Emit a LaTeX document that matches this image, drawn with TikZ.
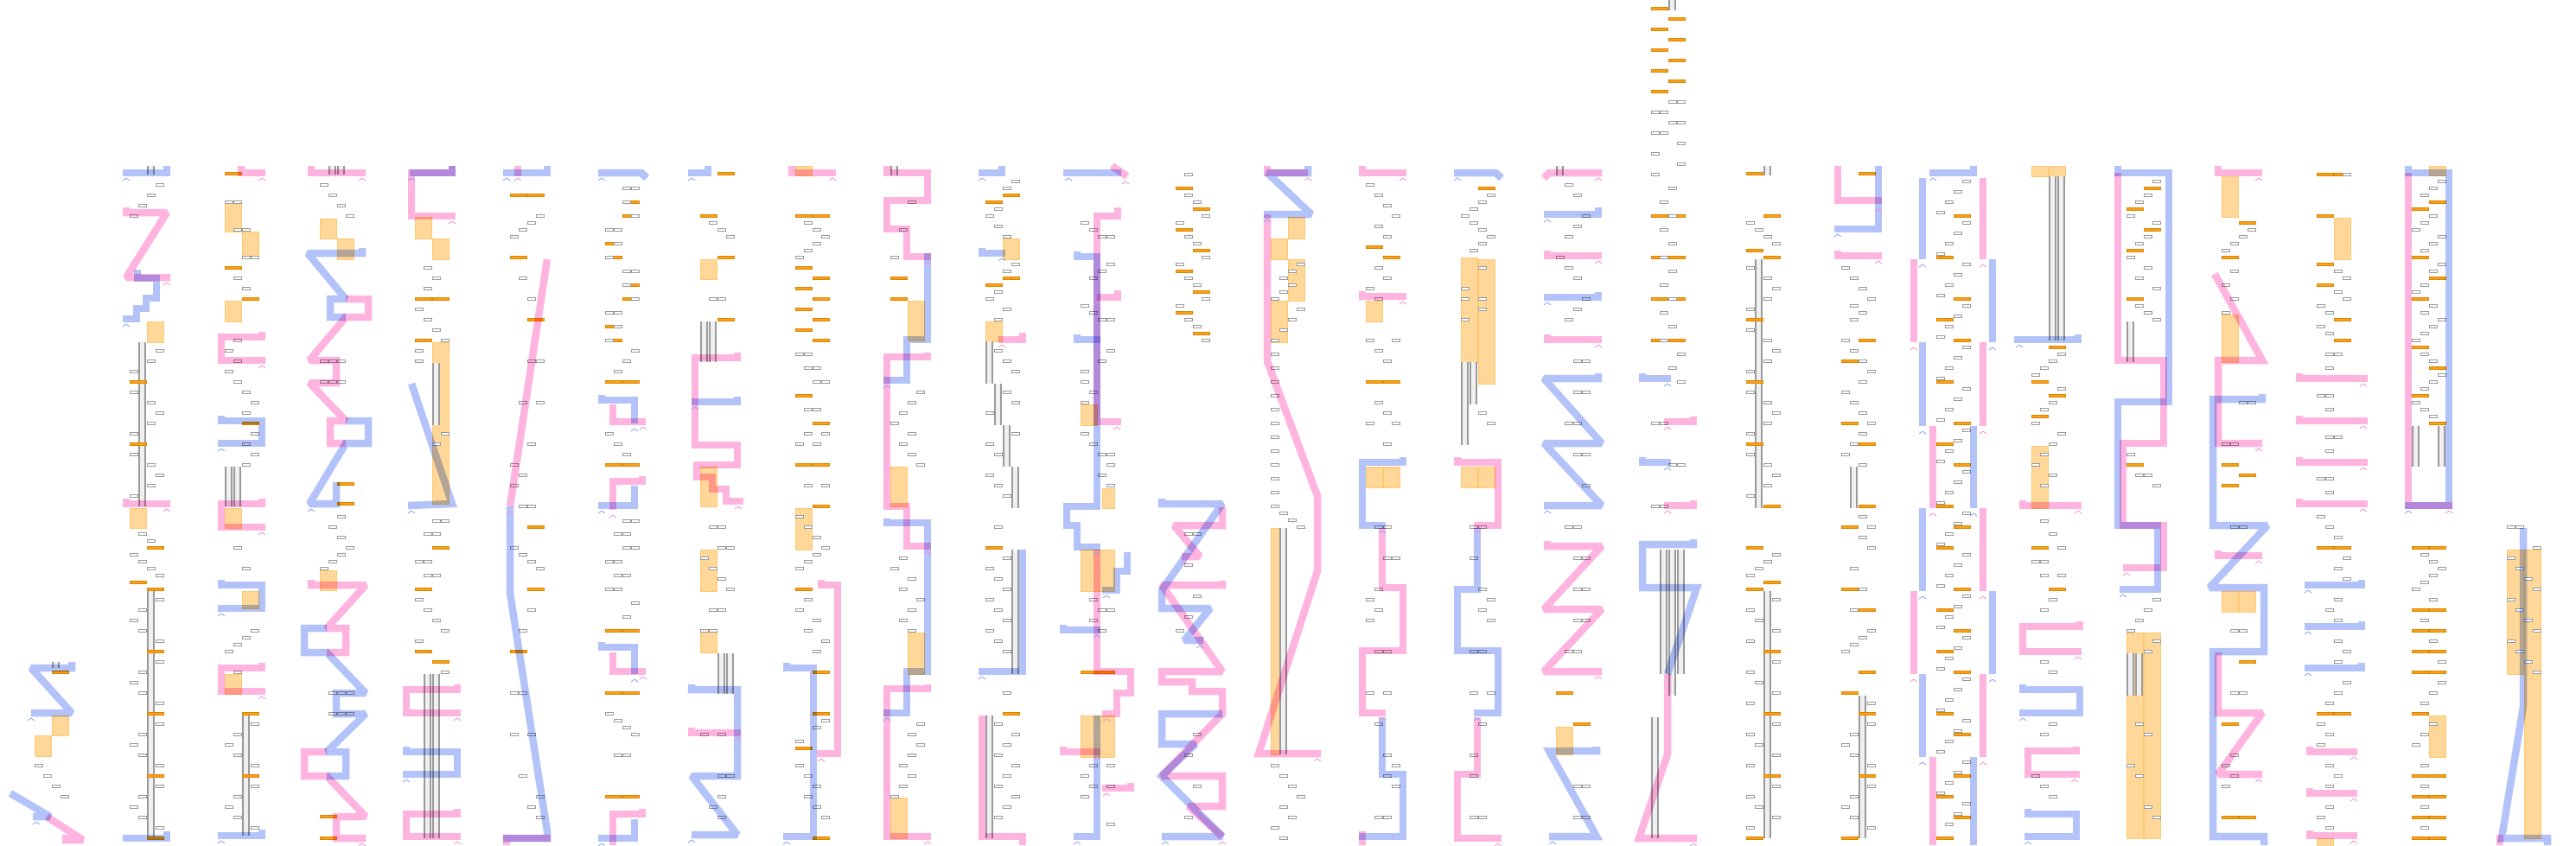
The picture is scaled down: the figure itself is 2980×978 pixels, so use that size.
\documentclass[tikz,border=0pt]{standalone}
\begin{document}
\definecolor{bF}{HTML}{B3C3FA}
\definecolor{bE}{HTML}{86A0F0}
\definecolor{pF}{HTML}{FFB3DF}
\definecolor{pE}{HTML}{F58ACB}
\definecolor{oF}{HTML}{FFD899}
\definecolor{oE}{HTML}{FFC870}
\definecolor{obF}{HTML}{F7A21B}
\definecolor{obE}{HTML}{E08400}
\definecolor{gE}{HTML}{9A9A9A}
\tikzset{
 bp/.style={draw=bF, line width=8.5pt, line join=miter, miter limit=2},
 pp/.style={draw=pF, line width=8.5pt, line join=miter, miter limit=2},
 gbox/.style={draw=gE, fill=white, line width=0.85pt},
 obar/.style={draw=obE, fill=obF, line width=0.8pt},
 orect/.style={draw=oE, fill=oF, line width=1pt},
 pipef/.style={fill=gray!12},
 pipel/.style={draw=gE, line width=1.1pt}
}
\newcommand\bb[1]{\begin{scope}[blend mode=multiply]\draw[bp] #1;\end{scope}}
\newcommand\pq[1]{\begin{scope}[blend mode=multiply]\draw[pp] #1;\end{scope}}
\newcommand\gbx[1]{\foreach \a/\b in {#1}{\draw[gbox] (\a,\b-1.5) rectangle +(9,3);}}
\newcommand\obx[1]{\foreach \a/\b in {#1}{\draw[obar] (\a,\b-1.5) rectangle +(19,3);}}
\newcommand\orx[1]{\foreach \a/\b/\c/\d in {#1}{\draw[orect] (\a,\b) rectangle (\c,\d);}}
\newcommand\pix[1]{\foreach \a/\b/\c in {#1}{\fill[pipef] (\a,\b) rectangle (\a+7,\c); \draw[pipel] (\a,\b) -- (\a,\c) (\a+7,\b) -- (\a+7,\c);}}
\newcommand\crb[1]{\foreach \a/\b in {#1}{\draw[bE,line width=0.8pt] (\a-4,\b+9)--(\a,\b+6)--(\a+4,\b+9);}}
\newcommand\crp[1]{\foreach \a/\b in {#1}{\draw[pE,line width=0.8pt] (\a-4,\b+9)--(\a,\b+6)--(\a+4,\b+9);}}
\begin{tikzpicture}[x=1pt,y=-1pt]
\useasboundingbox (0,0) rectangle (2980,978);
% ---------- column 0
\begin{scope}[xshift=32pt]
\orx{28/828/47/851, 8/851/27/875}
\pix{29/766/773}
\gbx{8/886, 18/898, 28/910, 38/922}
\obx{28/778}
\bb{(51,766)--(51,773)--(4,773)--(51,825)--(4,825)}
\bb{(-20,918)--(26,945)--(6,945)}
\pq{(22,945)--(64,972)--(44,972)--(44,966)}
\crb{4/825, 10/945}
\end{scope}
% ---------- column 1
\begin{scope}[xshift=142pt]
\orx{28/372/47/396, 8/588/27/611}
\pix{29/192/202, 19/396/586, 29/682/970}
\gbx{38/214, 28/226, 18/238, 8/250, 38/406, 28/418, 8/430, 8/454, 28/466, 38/478, 28/490, 8/502, 8/526, 28/538, 38/550, 28/562, 8/574, 18/618, 28/626, 8/642, 18/650, 28/658, 38/666, 38/694, 18/706, 8/718, 18/730, 38/742, 38/766, 18/778, 8/790, 18/802, 38/814, 38/838, 18/850, 8/862, 18/874, 38/886, 38/910, 18/922, 8/934, 18/946, 38/958}
\obx{8/442, 8/514, 28/634, 8/674, 28/682, 28/754, 28/826, 28/898, 28/970}
\bb{(51,192)--(51,200)--(0,200)}
\pq{(4,240)--(4,246)--(51,246)--(4,321)--(55,321)}
\bb{(17,312)--(17,322)--(39,322)--(39,345)--(27,345)--(27,357)--(16,357)--(16,369)--(0,369)}
\pq{(4,577)--(4,583)--(55,583)}
\bb{(51,962)--(51,970)--(0,970)}
\crb{4/200, 4/369}\crp{51/321, 51/583}
\end{scope}
% ---------- column 2
\begin{scope}[xshift=252pt]
\orx{8/234/27/268, 28/268/47/298, 8/348/27/372, 8/588/27/611, 28/684/47/704, 8/780/27/803}
\pix{9/540/586, 19/540/586, 29/826/967}
\gbx{8/234, 18/234, 18/266, 28/266, 28/298, 38/298, 18/322, 28/334, 18/394, 8/406, 18/418, 8/430, 18/442, 28/454, 38/466, 28/478, 38/502, 28/514, 38/526, 28/538, 18/634, 28/658, 38/730, 28/738, 18/746, 8/754, 18/778, 38/838, 18/850, 8/862, 18/874, 38/886, 38/910, 18/922, 8/934, 18/946, 38/958}
\obx{8/201, 8/310, 28/346, 28/490, 28/826, 28/898}
\pq{(27,192)--(27,200)--(55,200)}
\pq{(51,384)--(51,390)--(4,390)--(4,417)--(55,417)}
\bb{(4,481)--(4,487)--(51,487)--(51,513)--(0,513)}
\pq{(51,577)--(51,583)--(4,583)--(4,610)--(55,610)}
\bb{(4,671)--(4,677)--(51,677)--(51,704)--(0,704)}
\pq{(51,767)--(51,773)--(4,773)--(4,800)--(55,800)}
\bb{(51,960)--(51,967)--(0,967)}
\crp{51/200, 51/417, 51/610, 51/800}\crb{4/513, 4/704, 4/967}
\end{scope}
% ---------- column 3
\begin{scope}[xshift=362pt]
\orx{8/253/27/276, 28/276/47/300, 8/660/27/683}
\pix{19/192/202, 29/192/202}
\gbx{8/214, 18/226, 28/238, 38/250, 8/418, 18/418, 28/418, 8/442, 18/442, 28/442, 28/598, 18/610, 28/622, 38/634, 28/642, 18/650, 8/658, 18/802, 28/802, 38/802, 18/826, 28/826, 38/826}
\obx{28/560, 28/583, 8/945, 8/970}
\pq{(-2,192)--(-2,200)--(61,200)}
\bb{(57,287)--(57,293)--(-6,293)--(38,346)--(20,346)--(20,367)--(38,367)}
\pq{(38,346)--(64,346)--(64,367)--(38,367)--(-4,417)--(27,417)--(27,443)--(-4,443)--(38,487)--(20,487)--(20,513)--(38,513)}
\bb{(38,487)--(64,487)--(64,513)--(38,513)--(-4,583)--(27,583)--(27,558)}
\pq{(-2,671)--(-2,677)--(61,677)--(16,727)--(38,727)--(38,755)--(16,755)}
\bb{(16,727)--(-10,727)--(-10,755)--(16,755)--(61,802)--(27,802)--(27,826)--(61,826)--(16,870)--(38,870)--(38,898)--(16,898)}
\pq{(16,870)--(-10,870)--(-10,898)--(16,898)--(61,945)--(27,945)--(27,970)--(61,970)}
\crp{57/200, 57/970}\crb{-2/583}
\end{scope}
% ---------- column 4
\begin{scope}[xshift=472pt]
\orx{8/251/27/276, 28/276/47/300, 28/396/47/583}
\pix{29/420/492, 19/780/970, 29/780/970}
\gbx{18/310, 28/322, 18/334, 8/358, 18/370, 28/382, 38/394, 8/406, 8/418, 38/502, 28/514, 28/603, 38/603, 18/618, 28/618, 8/650, 18/650, 18/666, 28/666, 8/694, 18/706, 28/718, 38/730, 8/742, 38/778}
\obx{8/346, 28/346, 8/394, 28/634, 8/682, 8/754, 28/766}
\pq{(51,192)--(51,200)--(4,200)--(4,250)--(55,250)}
\bb{(51,192)--(51,200)--(2,200)}
\bb{(4,444)--(51,583)--(0,585)}
\pq{(57,792)--(57,798)--(-2,798)--(-2,825)--(61,825)}
\bb{(-2,864)--(-2,870)--(57,870)--(57,896)--(-6,896)}
\pq{(57,936)--(57,942)--(-2,942)--(-2,968)--(61,968)}
\crp{51/250, 57/825, 57/968}\crb{4/200, 4/585, -2/896}
\end{scope}
% ---------- column 5
\begin{scope}[xshift=582pt]
\gbx{38/250, 28/258, 18/266, 8/274, 18/322, 28/346, 28/418, 38/418, 18/466, 38/466, 28/514, 8/538, 18/550, 8/562, 18/586, 28/586, 8/634, 18/642, 28/650, 38/658, 28/706, 18/730, 8/802, 18/802, 8/850, 28/850, 18/898, 38/922, 28/934, 38/946}
\obx{8/226, 28/226, 8/298, 28/370, 28/610, 28/682, 8/754}
\bb{(51,192)--(51,200)--(0,200)}
\pq{(17,192)--(17,204)}
\pq{(51,300)--(8,586)}
\bb{(8,586)--(8,686)--(51,962)--(51,970)--(0,970)}
\pq{(4,978)--(4,970)--(55,970)}
\crb{4/200}\crp{17/200, 8/586}
\end{scope}
% ---------- column 6
\begin{scope}[xshift=692pt]
\obx{28/234, 28/250, 8/282, 8/298, 28/330, 28/346, 8/378, 8/394, 8/442, 28/442, 8/538, 28/538, 8/730, 28/730, 8/802, 28/802, 8/922, 28/922}
\gbx{28/218, 38/218, 28/234, 38/250, 8/266, 18/266, 18/282, 8/298, 28/314, 38/314, 28/330, 38/346, 8/362, 18/362, 18/378, 8/394, 38/406, 28/418, 18/430, 8/502, 18/514, 28/526, 28/603, 38/603, 18/618, 28/618, 28/634, 38/634, 8/650, 18/650, 18/666, 28/666, 8/682, 18/682, 38/698, 28/714, 8/826, 18/834, 28/842, 38/850, 18/874, 28/874}
\bb{(0,200)--(50,200)--(56,206)}
\bb{(4,457)--(4,463)--(42,463)--(42,490)}
\pq{(17,468)--(17,488)--(55,488)}
\pq{(51,551)--(51,557)--(17,557)--(17,590)}
\bb{(42,562)--(42,585)--(0,585)}
\bb{(4,743)--(4,749)--(42,749)--(42,780)}
\pq{(17,755)--(17,777)--(55,777)}
\pq{(51,936)--(51,942)--(17,942)--(17,978)}
\bb{(42,948)--(42,970)--(0,970)}
\crb{4/200, 42/490, 4/585, 42/780, 4/970}\crp{52/488, 17/590, 52/777}
\end{scope}
% ---------- column 7
\begin{scope}[xshift=802pt]
\orx{8/300/27/323, 8/540/27/586, 8/636/27/684, 8/731/27/755}
\pix{9/372/419, 19/372/419, 29/756/803, 39/756/803}
\gbx{18/258, 28/266, 38/274, 18/346, 28/346, 18/610, 28/610, 28/634, 38/634, 8/646, 18/658, 28/670, 38/682, 18/706, 28/706, 8/730, 18/730, 8/850, 28/850, 28/898, 38/898, 28/922, 18/934, 28/946}
\obx{28/201, 8/250, 28/298, 28/370}
\bb{(17,192)--(17,200)--(-6,200)}
\pq{(51,408)--(51,414)--(2,414)--(2,515)--(51,515)--(51,538)--(4,538)--(4,552)--(22,552)--(22,566)--(38,566)--(38,580)--(58,580)}
\bb{(51,459)--(51,465)--(-2,465)}
\bb{(-2,792)--(-2,798)--(51,798)--(51,898)--(-2,898)--(51,966)--(-2,966)}
\pq{(-2,842)--(-2,848)--(55,848)}
\crb{-2/200, 2/465, -2/966}\crp{52/580, 51/848}
\end{scope}
% ---------- column 8
\begin{scope}[xshift=912pt]
\orx{8/192/27/203, 8/588/27/636}
\obx{8/250, 28/250, 8/310, 28/322, 8/334, 28/346, 8/358, 28/370, 8/382, 28/394, 8/458, 28/490, 8/538, 28/538, 28/586, 8/682, 28/778, 28/826, 8/866, 28/970}
\gbx{18/258, 28/266, 38/274, 28/282, 18/290, 8/298, 8/410, 18/410, 18/426, 28/426, 28/442, 38/442, 18/474, 28/474, 18/502, 38/502, 8/514, 28/514, 18/562, 38/562, 8/598, 18/610, 28/622, 38/634, 28/642, 18/650, 8/658, 18/694, 8/706, 28/718, 18/730, 38/742, 28/754, 38/834, 28/842, 8/858, 8/886, 18/898, 28/910, 18/922, 28/934, 38/946}
\pq{(4,192)--(4,200)--(55,200)}
\pq{(38,671)--(38,677)--(57,677)--(57,872)--(33,872)}
\bb{(-2,767)--(-2,773)--(29,773)--(29,968)--(-6,968)}
\crp{51/200, 38/872}\crb{-2/968}
\end{scope}
% ---------- column 9
\begin{scope}[xshift=1022pt]
\orx{28/348/47/394, 8/540/27/586, 28/732/47/780, 8/923/27/970}
\pix{9/192/203}
\obx{8/322, 8/346}
\gbx{28/234, 18/266, 8/298, 38/454, 28/466, 18/478, 8/490, 28/502, 18/514, 28/526, 38/538, 18/646, 8/658, 28/670, 18/682, 38/694, 28/706, 18/718, 28/730, 38/838, 28/850, 38/862, 28/874, 18/886, 28/898, 18/910, 8/922}
\pq{(4,192)--(4,200)--(51,200)--(51,232)--(4,232)--(4,265)--(27,265)--(27,297)--(55,297)}
\bb{(51,293)--(51,393)--(27,393)--(27,440)--(0,440)}
\pq{(51,408)--(51,413)--(4,413)--(4,586)--(27,586)--(27,632)--(55,632)}
\bb{(4,600)--(4,605)--(51,605)--(51,777)--(27,777)--(27,825)--(0,825)}
\pq{(51,792)--(51,797)--(4,797)--(4,968)--(55,968)}
\crp{51/297, 51/632, 51/968}\crb{4/440, 4/825}
\end{scope}
% ---------- column 10
\begin{scope}[xshift=1132pt]
\orx{28/276/47/300, 8/372/27/395}
\pix{9/395/444, 19/444/492, 29/492/540, 39/540/588, 39/636/780, 9/828/970}
\obx{28/226, 8/234, 28/322, 8/330, 8/634, 28/826}
\gbx{38/210, 28/218, 18/242, 8/250, 18/262, 28/274, 38/306, 28/314, 18/338, 8/346, 28/358, 18/370, 18/406, 28/418, 38/430, 28/454, 38/466, 8/478, 38/502, 8/514, 18/526, 8/550, 18/562, 28/574, 18/610, 28/646, 8/658, 18/670, 28/682, 8/694, 18/706, 28/718, 8/730, 18/742, 28/754, 28/802, 18/838, 38/850, 28/862, 18/874, 38/886, 28/898, 18/910, 38/922, 28/934, 18/946}
\bb{(27,192)--(27,200)--(0,200)}
\bb{(4,287)--(4,293)--(31,293)}
\pq{(51,385)--(51,393)--(23,393)}
\bb{(51,636)--(51,777)--(0,777)}
\pq{(4,828)--(4,968)--(51,968)--(51,978)}
\crb{4/200, 27/293, 4/777}\crp{27/393}
\end{scope}
% ---------- column 11
\begin{scope}[xshift=1242pt]
\orx{8/468/27/492, 8/636/47/684, 8/828/47/876, 33/565/47/588}
\obx{8/778, 28/778}
\gbx{8/258, 18/266, 28/274, 38/274, 28/314, 18/322, 38/306, 8/354, 18/362, 28/370, 38/370, 28/418, 38/406, 8/430, 8/442, 18/454, 8/466, 8/502, 18/514, 28/526, 38/526, 38/538, 28/550, 38/562, 18/694, 28/706, 18/718, 28/730, 38/706, 18/886, 8/898, 18/910, 8/922, 38/886, 38/910, 38/954}
\bb{(-12,200)--(55,200)}
\pq{(44,192)--(62,204)}
\pq{(51,240)--(51,250)--(27,250)--(27,488)--(55,488)}
\pq{(51,336)--(51,344)--(27,344)}
\bb{(4,291)--(4,297)--(27,297)--(27,586)--(-8,586)--(-8,608)--(4,608)--(4,633)--(31,633)}
\bb{(4,387)--(4,393)--(31,393)}
\bb{(62,639)--(62,661)--(50,661)--(50,683)--(33,683)}
\pq{(27,636)--(27,777)--(66,777)--(66,802)--(50,802)--(50,826)--(33,826)}
\bb{(-12,723)--(-12,729)--(31,729)}
\pq{(-12,864)--(-12,870)--(31,870)}
\bb{(27,828)--(27,968)--(0,968)}
\pq{(66,906)--(66,912)--(33,912)}
\crb{-6/200, 27/297, 27/393, 27/633, 38/683, 27/729, 4/968}\crp{60/204, 27/344, 50/488, 38/826, 27/870, 38/912}
\end{scope}
% ---------- column 12
\begin{scope}[xshift=1352pt]
\gbx{18/202, 18/226, 28/234, 38/250, 8/258, 18/274, 28/282, 38/298, 8/306, 18/322, 28/330, 38/346, 8/354, 18/370, 28/378, 38/394, 18/618, 28/618, 18/654, 28/690, 18/714, 8/730, 28/850, 18/874, 28/910, 18/946}
\obx{8/218, 28/242, 8/266, 28/290, 8/314, 28/338, 8/362, 28/386}
\bb{(-8,577)--(-8,583)--(62,583)--(-8,683)--(-8,704)--(48,704)--(18,741)--(40,741)}
\pq{(62,587)--(62,608)--(6,608)--(36,644)--(15,644)}
\pq{(62,672)--(62,677)--(-8,677)--(62,777)--(-8,777)--(-8,789)--(27,789)--(27,800)--(62,800)--(62,826)--(-8,898)--(62,898)--(62,933)--(23,933)--(62,968)}
\bb{(62,826)--(-8,826)--(-8,861)--(31,861)--(-8,898)--(62,968)--(-8,968)}
\crb{36/741, -4/968}\crp{18/644, 62/968}
\end{scope}
% ---------- column 13
\begin{scope}[xshift=1462pt]
\orx{28/251/47/276, 8/276/27/300, 28/300/47/348, 8/348/27/396, 8/611/18/873}
\pix{19/611/873}
\gbx{38/306, 28/314, 18/322, 28/330, 18/338, 8/346, 38/358, 28/370, 18/382, 8/394, 8/410, 8/426, 8/442, 8/458, 8/474, 8/490, 8/506, 8/522, 8/538, 8/554, 8/570, 8/586, 18/594, 28/602, 38/610, 8/886, 18/898, 28/910, 38/922, 18/934, 28/946, 8/958, 18/970}
\pq{(4,192)--(4,200)--(51,200)}
\bb{(51,192)--(51,200)--(4,200)--(55,248)--(0,248)}
\pq{(4,248)--(4,418)--(62,574)--(62,661)--(-6,872)--(66,872)}
\crp{51/200, 62/872}\crb{4/248}
\end{scope}
% ---------- column 14
\begin{scope}[xshift=1572pt]
\orx{8/348/27/372, 8/540/27/564, 28/540/47/564}
\obx{8/286, 28/298, 8/442, 28/442}
\gbx{8/214, 18/226, 28/238, 38/250, 18/262, 28/274, 18/310, 28/322, 8/334, 18/346, 8/394, 38/394, 18/406, 28/418, 18/466, 28/478, 8/490, 38/490, 28/514, 18/610, 28/610, 28/646, 38/646, 18/682, 8/694, 18/706, 8/718, 18/754, 28/754, 8/802, 28/802, 18/838, 28/874, 38/886, 28/898, 38/910, 18/946, 28/946}
\pq{(4,192)--(4,200)--(55,200)}
\pq{(4,337)--(4,343)--(55,343)}
\bb{(51,529)--(51,535)--(4,535)--(4,608)--(31,608)}
\pq{(27,611)--(27,680)--(51,680)--(51,753)--(4,753)--(4,825)--(31,825)}
\bb{(27,830)--(27,896)--(51,896)--(51,968)--(0,968)}
\pq{(4,962)--(4,978)}
\crp{51/200, 51/343, 27/825}\crb{27/608}
\end{scope}
% ---------- column 15
\begin{scope}[xshift=1682pt]
\orx{8/298/27/419, 28/300/47/444, 8/540/27/564, 28/540/47/564}
\pix{9/419/515, 19/419/468}
\obx{28/218}
\gbx{38/226, 28/234, 18/242, 8/250, 18/258, 28/266, 38/274, 28/282, 18/290, 28/310, 8/334, 28/346, 8/346, 28/358, 8/370, 28/478, 38/490, 18/610, 28/610, 18/646, 28/682, 38/694, 28/706, 38/718, 18/754, 28/754, 18/802, 38/802, 28/838, 18/874, 18/898, 18/946, 28/946}
\bb{(0,200)--(48,200)--(55,206)}
\pq{(4,529)--(4,535)--(51,535)--(51,608)--(23,608)}
\bb{(27,611)--(27,682)--(4,682)--(4,753)--(51,753)--(51,825)--(23,825)}
\pq{(27,830)--(27,896)--(4,896)--(4,970)--(55,970)}
\crb{4/200, 27/825}\crp{27/608, 51/970}
\end{scope}
% ---------- column 16
\begin{scope}[xshift=1792pt]
\orx{8/841/27/873}
\obx{8/802, 28/838}
\pix{9/192/203}
\gbx{18/214, 28/226, 38/250, 28/262, 18/274, 8/298, 18/310, 28/322, 38/346, 28/358, 18/370, 28/418, 38/418, 28/454, 38/454, 18/490, 28/490, 28/526, 38/526, 38/562, 18/610, 28/610, 28/646, 38/646, 28/682, 38/682, 28/718, 38/718, 18/754, 28/754, 28/910, 38/910, 28/946, 38/946}
\pq{(-6,206)--(0,200)--(61,200)}
\bb{(57,240)--(57,248)--(-6,248)}
\pq{(-2,290)--(-2,296)--(61,296)}
\bb{(57,338)--(57,344)--(-6,344)}
\pq{(-2,387)--(-2,393)--(61,393)}
\bb{(57,432)--(57,438)--(-6,438)--(61,513)--(-6,513)--(61,585)--(-6,585)}
\pq{(-2,626)--(-2,632)--(61,632)--(-6,705)--(61,705)--(-6,777)--(61,777)}
\bb{(55,864)--(55,869)--(0,869)--(55,968)--(0,968)}
\crp{57/200, 57/296, 57/393, 57/777}\crb{-2/248, -2/344, -2/585, 4/968}
\end{scope}
% ---------- column 17
\begin{scope}[xshift=1902pt]
\pix{29/0/12, 19/636/780, 29/636/805, 39/636/780, 9/830/970}
\obx{8/10, 28/22, 8/34, 28/46, 8/58, 28/70, 8/82, 28/94, 8/106, 8/250, 28/250, 8/298, 28/298, 8/346, 28/346, 8/394, 28/394}
\gbx{28/118, 38/118, 8/130, 18/130, 28/142, 38/142, 8/154, 18/154, 38/166, 8/178, 38/190, 8/202, 28/218, 18/234, 28/250, 18/266, 28/282, 18/298, 28/314, 18/330, 28/346, 18/362, 28/378, 18/394, 38/410, 28/426, 38/442, 8/490, 18/490, 28/538, 38/538, 8/586, 18/586}
\bb{(-2,432)--(-2,438)--(31,438)}
\pq{(57,482)--(57,488)--(23,488)}
\bb{(-2,529)--(-2,535)--(31,535)}
\pq{(57,579)--(57,585)--(23,585)}
\bb{(57,624)--(57,630)--(-2,630)--(-2,680)--(61,680)--(27,780)}
\pq{(27,780)--(27,873)--(-6,970)--(61,970)}
\crb{27/438, 27/535}\crp{27/488, 27/585, 57/970}
\end{scope}
% ---------- column 18
\begin{scope}[xshift=2012pt]
\pix{29/192/203, 19/300/588, 29/684/970}
\obx{8/201, 28/250, 8/290, 28/298, 8/370, 8/442, 8/514, 28/586, 8/634, 28/674, 8/682, 28/754, 28/826, 28/898, 8/970}
\gbx{8/258, 18/266, 28/274, 38/282, 8/310, 28/322, 38/334, 28/346, 8/358, 8/382, 28/394, 38/406, 28/418, 8/430, 8/454, 28/466, 38/478, 28/490, 8/502, 8/526, 28/538, 38/550, 28/562, 8/574, 38/642, 28/650, 18/658, 8/666, 38/694, 8/706, 18/718, 38/730, 8/742, 38/766, 8/778, 18/790, 38/802, 8/814, 38/838, 8/850, 18/862, 38/874, 8/886, 38/910, 8/922, 18/934, 38/946, 8/958}
\end{scope}
% ---------- column 19
\begin{scope}[xshift=2122pt]
\pix{19/540/588, 29/805/970}
\obx{28/201, 28/394, 8/418, 8/490, 28/514, 28/586, 8/610, 8/682, 28/706, 28/778, 8/802, 28/826, 28/898, 8/970}
\gbx{8/310, 18/322, 28/334, 38/346, 18/354, 28/362, 18/370, 8/394, 18/406, 28/418, 38/430, 28/442, 8/454, 18/466, 28/478, 38/490, 28/502, 18/514, 8/526, 28/538, 28/598, 38/610, 28/622, 38/634, 18/658, 28/682, 18/706, 38/730, 28/738, 18/746, 8/754, 38/814, 38/838, 18/850, 8/862, 18/874, 38/886, 38/910, 18/922, 8/934, 18/946, 38/958}
\pq{(4,192)--(4,232)--(55,232)}
\bb{(51,192)--(51,265)--(0,265)}
\pq{(4,290)--(4,296)--(55,296)}
\crb{4/265}\crp{51/236, 51/296}
\end{scope}
% ---------- column 20
\begin{scope}[xshift=2232pt]
\foreach \i in {0,...,62}{\pgfmathsetmacro\yy{210+12*\i}\pgfmathsetmacro\xx{38-10*mod(\i,4)}\draw[gbox] (\xx,\yy-1.5) rectangle +(9,3);}
\obx{28/250, 8/298, 28/346, 8/370, 28/394, 8/442, 28/490, 8/514, 28/538, 8/586, 28/610, 8/634, 28/682, 8/706, 28/730, 8/754, 28/778, 8/826, 28/850, 28/898, 8/922, 28/946, 8/970}
\bb{(51,192)--(51,200)--(0,200)}
\foreach \t/\u in {206/300, 396/493, 588/684, 780/876}{\bb{(-8,\t)--(-8,\u)}\pq{(62,\t)--(62,\u)}}
\foreach \t/\u in {300/396, 684/780}{\pq{(-18,\t)--(-18,\u)}\bb{(73,\t)--(73,\u)}}
\foreach \t/\u in {493/588, 876/978}{\pq{(4,\t)--(4,\u)}\bb{(51,\t)--(51,\u)}}
\crb{4/200, -8/300, -8/493, -8/684, -8/876, 73/396, 73/780, 51/588}\crp{62/300, 62/493, 62/684, 62/876, -18/396, -18/780, 4/588}
\end{scope}
% ---------- column 21
\begin{scope}[xshift=2342pt]
\orx{8/192/27/204, 28/192/47/204, 8/516/27/588}
\pix{29/204/394, 39/204/394}
\obx{28/402, 8/442, 28/458, 8/482, 8/634, 28/682}
\gbx{38/410, 28/418, 18/426, 8/434, 38/450, 28/466, 18/474, 8/490, 38/502, 28/514, 18/526, 8/538, 28/550, 18/562, 18/603, 28/618, 38/634, 8/650, 18/650, 18/666, 38/666, 28/694, 18/706, 18/766, 28/778, 28/838, 18/850, 8/898, 18/910, 28/922}
\bb{(62,387)--(62,393)--(-12,393)}
\pq{(-2,579)--(-2,585)--(66,585)}
\pq{(64,719)--(64,725)--(-2,725)--(-2,754)--(66,754)}
\bb{(-2,792)--(-2,798)--(64,798)--(64,825)--(-6,825)}
\pq{(60,864)--(60,869)--(4,869)--(4,896)--(64,896)}
\bb{(4,936)--(4,942)--(60,942)--(60,968)--(0,968)}
\crb{-6/393, -2/825, 4/968}\crp{62/585, 62/754, 58/896}
\end{scope}
% ---------- column 22
\begin{scope}[xshift=2452pt]
\orx{8/732/27/970, 28/732/47/970}
\pix{9/756/805, 19/756/805, 9/372/419}
\obx{28/218, 8/242, 28/266, 8/290, 8/346, 8/538}
\gbx{38/210, 28/226, 18/234, 8/250, 38/258, 28/274, 18/282, 8/298, 28/310, 18/322, 38/334, 18/354, 28/362, 38/370, 8/526, 18/550, 28/550, 38/562, 38/694, 28/706, 18/718, 8/730, 38/742, 28/754, 18/838, 28/850, 8/886, 18/898, 28/934, 38/946}
\bb{(-2,192)--(-2,200)--(57,200)--(57,465)--(-2,465)--(-2,608)--(44,608)--(44,682)--(0,682)}
\pq{(-2,200)--(-2,417)--(51,417)--(51,513)--(4,513)--(4,608)--(51,608)--(51,657)--(4,657)}
\crb{4/682}\crp{8/657}
\end{scope}
% ---------- column 23
\begin{scope}[xshift=2562pt]
\orx{8/204/27/251, 8/364/27/419, 8/684/27/708, 28/684/47/708}
\obx{28/258, 8/298, 8/538, 28/550, 8/562, 28/766, 8/838, 8/946, 28/946}
\gbx{38/266, 28/274, 18/282, 8/290, 18/314, 8/330, 18/346, 8/362, 28/466, 38/466, 8/514, 18/514, 18/610, 28/610, 18/730, 28/730, 18/802, 28/802, 18/874, 8/886, 18/898, 8/910}
\pq{(4,192)--(4,200)--(55,200)}
\pq{(0,317)--(55,417)--(4,417)--(4,513)--(55,513)}
\bb{(55,456)--(55,462)--(-2,462)--(-2,608)--(61,608)--(-6,680)--(57,680)--(57,754)--(-2,754)--(-2,968)--(57,968)--(57,978)}
\pq{(4,637)--(4,643)--(55,643)}
\pq{(4,755)--(4,825)--(55,825)--(4,896)--(55,896)}
\crp{51/200, 51/513, 51/643, 51/896}
\end{scope}
% ---------- column 24
\begin{scope}[xshift=2672pt]
\orx{28/252/47/300, 8/970/27/980}
\obx{8/202, 28/202, 8/250, 8/306, 8/330, 28/370, 28/394, 8/634, 28/634, 8/826, 28/826}
\gbx{38/202, 28/314, 38/322, 28/338, 38/346, 8/354, 18/362, 8/378, 18/386, 18/410, 28/410, 18/426, 8/458, 18/458, 18/474, 18/506, 28/506, 18/522, 8/554, 18/554, 18/570, 8/598, 18/610, 28/622, 38/646, 28/658, 38/670, 28/694, 18/706, 28/718, 28/742, 38/754, 28/766, 38/790, 28/802, 18/814, 8/838, 18/850, 8/862, 18/886, 28/898, 18/910, 18/934, 8/946, 18/958}
\foreach \t in {438, 487, 535, 583}{\pq{(-12,\t-6)--(-12,\t)--(67,\t)}}
\foreach \t in {677, 725, 773}{\bb{(60,\t-6)--(60,\t)--(-6,\t)}}
\foreach \t in {870, 918, 967}{\pq{(0,\t-6)--(0,\t)--(55,\t)}}
\crp{62/438, 62/487, 62/535, 62/583, 51/870, 51/918, 51/967}\crb{-2/677, -2/725, -2/773}
\end{scope}
% ---------- column 25
\begin{scope}[xshift=2782pt]
\orx{28/192/47/203, 28/828/47/876}
\pix{9/493/540, 39/493/540}
\obx{28/234, 8/242, 8/298, 28/322, 8/346, 8/402, 28/426, 8/458, 28/490, 8/634, 28/634, 8/706, 28/706, 8/730, 28/730, 8/754, 28/754, 8/778, 28/778, 8/826, 8/898, 28/898, 8/922, 28/922, 8/946, 28/946, 8/970, 28/970}
\gbx{38/210, 28/218, 18/226, 28/250, 18/258, 8/266, 38/274, 28/282, 18/290, 38/306, 28/314, 18/330, 8/338, 28/354, 18/362, 38/370, 28/378, 18/386, 8/394, 18/410, 28/418, 38/434, 28/442, 18/450, 8/466, 18/474, 28/482, 18/642, 28/650, 38/658, 28/666, 18/674, 8/682, 28/694, 18/718, 28/742, 38/766, 38/790, 28/802, 18/814, 28/838, 18/850, 8/862, 18/886, 18/910, 18/934, 18/958}
\bb{(4,192)--(4,200)--(51,200)--(51,585)--(0,585)}
\pq{(4,200)--(4,585)--(55,585)}
\crb{4/585}\crp{51/585}
\end{scope}
% ---------- column 26
\begin{scope}[xshift=2892pt]
\orx{8/636/27/780, 28/636/47/970}
\gbx{8/610, 18/610, 38/634, 8/646, 18/658, 28/670, 38/682, 8/694, 18/706, 28/718, 38/730, 8/742, 18/754, 28/766, 38/778}
\bb{(27,611)--(27,817)--(2,970)--(55,970)--(55,978)}
\pq{(0,966)--(0,978)}
\end{scope}
\end{tikzpicture}
\end{document}
